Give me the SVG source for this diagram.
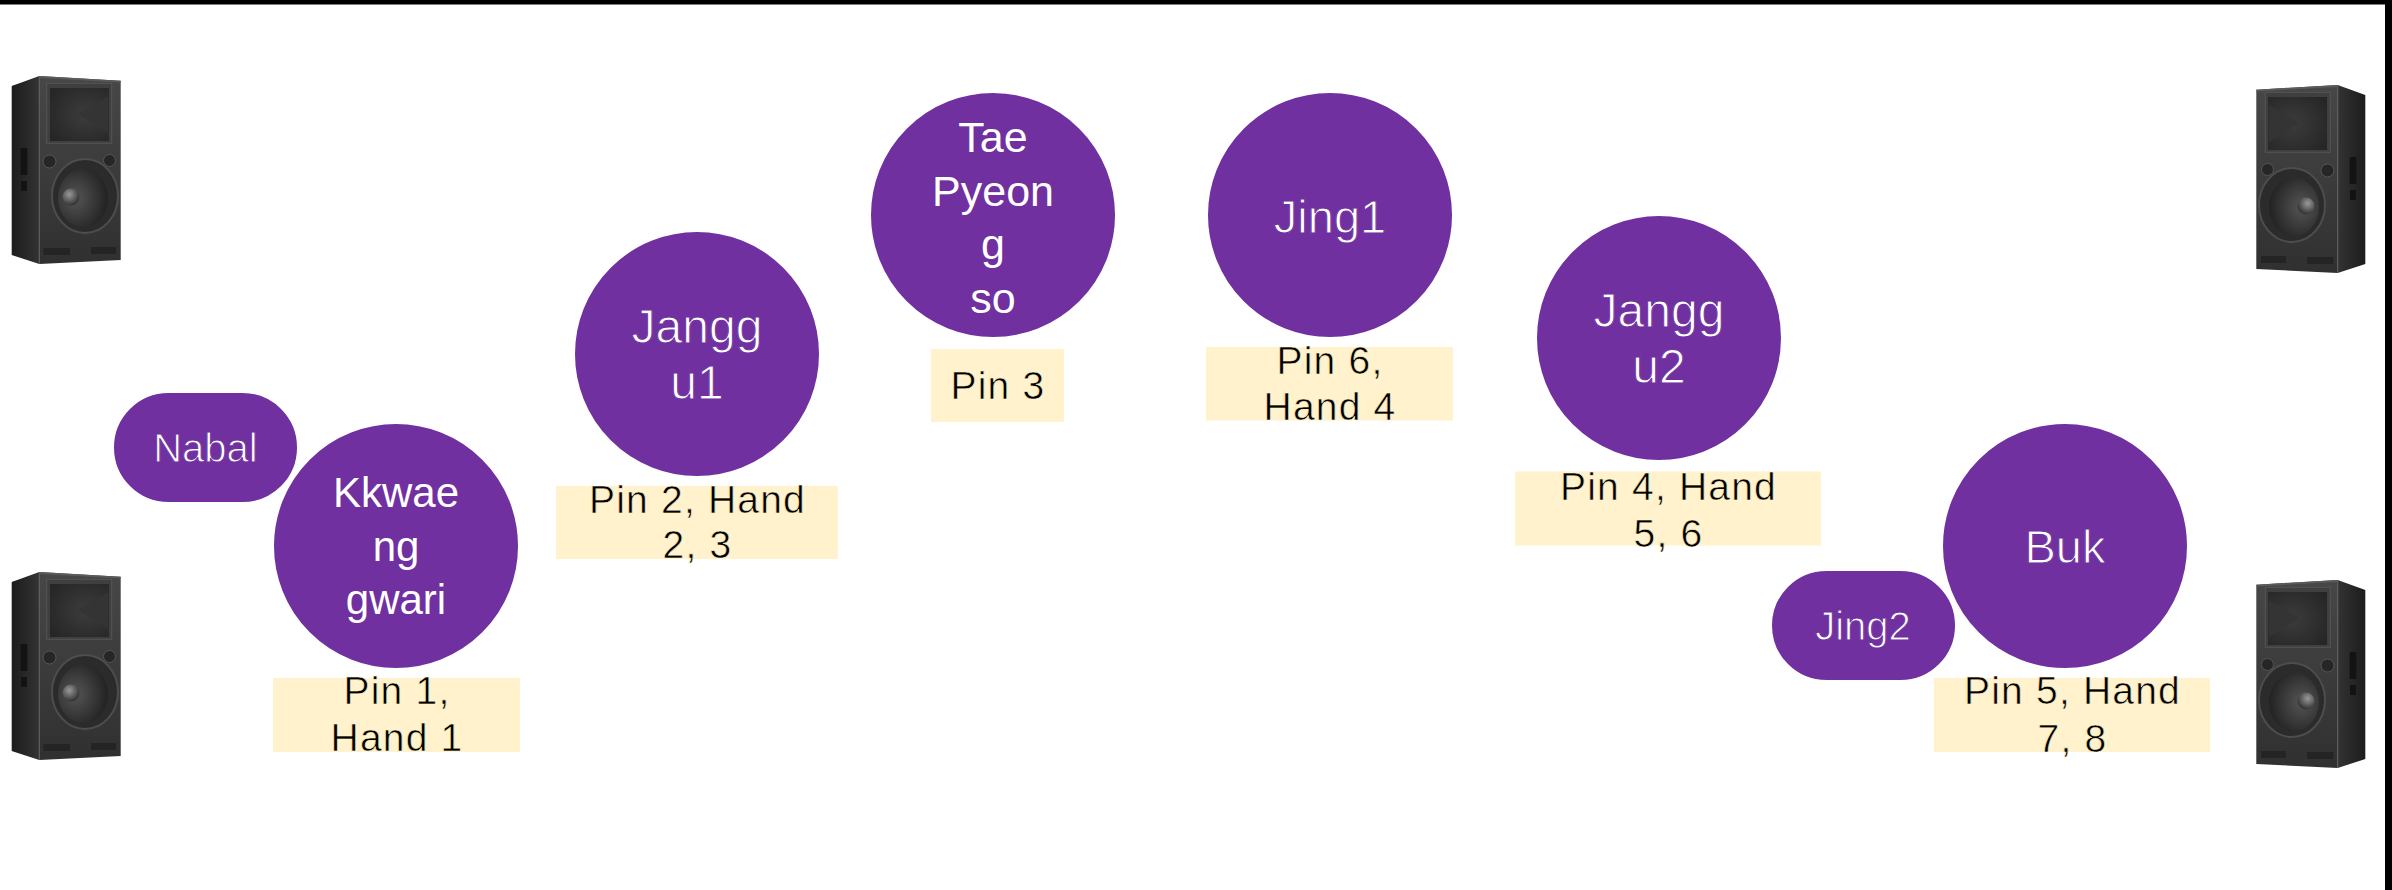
<svg xmlns="http://www.w3.org/2000/svg" width="2392" height="890" viewBox="0 0 2392 890">
  <style>
    .node { fill: #7030A0; stroke: #ffffff; stroke-width: 2; }
    .lbl { fill: #FFF2CC; }
    .tw { fill: #ffffff; font-family: "Liberation Sans", Arial, sans-serif; text-anchor: middle; }
    .thin { stroke: #7030A0; stroke-width: 1px; }
    .tb { fill: #000000; font-family: "Liberation Sans", Arial, sans-serif; text-anchor: middle; font-size: 39px; letter-spacing: 1.2px; stroke: #FFF2CC; stroke-width: 0.6px; }
    .light { font-size: 48px; }
  </style>
  <defs>
    <linearGradient id="frontGrad" x1="0" y1="0" x2="0" y2="1">
      <stop offset="0" stop-color="#474747"/>
      <stop offset="1" stop-color="#303030"/>
    </linearGradient>
    <linearGradient id="sideGrad" x1="0" y1="0" x2="1" y2="0">
      <stop offset="0" stop-color="#1c1c1c"/>
      <stop offset="1" stop-color="#333333"/>
    </linearGradient>
    <radialGradient id="hornGrad" cx="0.6" cy="0.5" r="0.7">
      <stop offset="0" stop-color="#3c3c3c"/>
      <stop offset="1" stop-color="#262626"/>
    </radialGradient>
    <radialGradient id="coneGrad" cx="0.35" cy="0.5" r="0.7">
      <stop offset="0" stop-color="#555555"/>
      <stop offset="1" stop-color="#1e1e1e"/>
    </radialGradient>
    <radialGradient id="capGrad" cx="0.4" cy="0.35" r="0.7">
      <stop offset="0" stop-color="#9a9a9a"/>
      <stop offset="1" stop-color="#2a2a2a"/>
    </radialGradient>
    <g id="speaker">
      <polygon points="11.7,86 39.3,76 39.3,264 11.7,255" fill="url(#sideGrad)"/>
      <polygon points="39.3,76 120.7,80.7 120.7,260 39.3,264" fill="url(#frontGrad)"/>
      <line x1="39.3" y1="76" x2="39.3" y2="264" stroke="#5c5c5c" stroke-width="1.2"/>
      <polygon points="39.3,76 120.7,80.7 120.7,82.5 39.3,78" fill="#5a5a5a"/>
      <rect x="46.7" y="83.3" width="65" height="60" fill="#3f3f3f" stroke="#555555" stroke-width="1"/>
      <rect x="50" y="88" width="59" height="53" fill="url(#hornGrad)"/>
      <path d="M 108,96 L 78,114 L 108,133 Z" fill="#343434"/>
      <circle cx="49.5" cy="161.5" r="6.5" fill="#262626" stroke="#555555" stroke-width="1"/>
      <circle cx="109.5" cy="160.5" r="6" fill="#262626" stroke="#555555" stroke-width="1"/>
      <ellipse cx="85" cy="196" rx="33" ry="37" fill="#2b2b2b" stroke="#4d4d4d" stroke-width="2"/>
      <ellipse cx="83" cy="198" rx="25" ry="29" fill="url(#coneGrad)"/>
      <circle cx="71" cy="197" r="8.5" fill="url(#capGrad)"/>
      <rect x="43.5" y="248" width="26.5" height="7" fill="#242424"/>
      <rect x="91" y="247" width="25" height="7" fill="#242424"/>
      <rect x="20.7" y="148" width="6.6" height="27" fill="#131313"/>
      <rect x="21" y="181" width="6" height="10" fill="#131313"/>
    </g>
  </defs>

  <rect x="0" y="0" width="2392" height="890" fill="#ffffff"/>
  <rect x="0" y="0" width="2392" height="4.5" fill="#000000"/>
  <rect x="2385" y="0" width="7" height="890" fill="#000000"/>

  <g id="speakers">
    <use href="#speaker"/>
    <use href="#speaker" transform="translate(0,496)"/>
    <use href="#speaker" transform="translate(2377,9) scale(-1,1)"/>
    <use href="#speaker" transform="translate(2377,504) scale(-1,1)"/>
  </g>

  <g id="connectors"/>

  <g id="nabal">
    <rect class="node" x="113" y="392" width="185" height="111" rx="55.5"/>
    <text class="tw thin" x="205.5" y="462" font-size="40">Nabal</text>
  </g>

  <g id="kkwaenggwari">
    <circle class="node" cx="396" cy="546" r="123"/>
    <text class="tw" font-size="42"><tspan x="396" y="507">Kkwae</tspan><tspan x="396" y="560.5">ng</tspan><tspan x="396" y="614">gwari</tspan></text>
  </g>
  <g id="label-kkwaenggwari">
    <rect class="lbl" x="273" y="678" width="247" height="74"/>
    <text class="tb"><tspan x="397" y="704">Pin 1,</tspan><tspan x="397" y="751">Hand 1</tspan></text>
  </g>

  <g id="janggu1">
    <circle class="node" cx="697" cy="354" r="123"/>
    <text class="tw thin light"><tspan x="697" y="343">Jangg</tspan><tspan x="697" y="399">u1</tspan></text>
  </g>
  <g id="label-janggu1">
    <rect class="lbl" x="556" y="486" width="282" height="73"/>
    <text class="tb"><tspan x="697.5" y="513">Pin 2, Hand</tspan><tspan x="697.5" y="558">2, 3</tspan></text>
  </g>

  <g id="taepyeongso">
    <circle class="node" cx="993" cy="215" r="123"/>
    <text class="tw" font-size="43"><tspan x="993" y="152">Tae</tspan><tspan x="993" y="205.7">Pyeon</tspan><tspan x="993" y="259.3">g</tspan><tspan x="993" y="313">so</tspan></text>
  </g>
  <g id="label-taepyeongso">
    <rect class="lbl" x="931" y="349" width="133" height="73"/>
    <text class="tb" x="998" y="399">Pin 3</text>
  </g>

  <g id="jing1">
    <circle class="node" cx="1330" cy="215" r="123"/>
    <text class="tw thin" x="1330" y="233" font-size="47">Jing1</text>
  </g>
  <g id="label-jing1">
    <rect class="lbl" x="1206" y="347" width="247" height="73.5"/>
    <text class="tb"><tspan x="1330" y="374">Pin 6,</tspan><tspan x="1330" y="420">Hand 4</tspan></text>
  </g>

  <g id="janggu2">
    <circle class="node" cx="1659" cy="338" r="123"/>
    <text class="tw thin light"><tspan x="1659" y="327">Jangg</tspan><tspan x="1659" y="383">u2</tspan></text>
  </g>
  <g id="label-janggu2">
    <rect class="lbl" x="1515" y="471.5" width="306" height="74"/>
    <text class="tb"><tspan x="1668.5" y="500">Pin 4, Hand</tspan><tspan x="1668.5" y="547">5, 6</tspan></text>
  </g>

  <g id="buk">
    <circle class="node" cx="2065" cy="546" r="123"/>
    <text class="tw thin" x="2065" y="562.5" font-size="47">Buk</text>
  </g>
  <g id="jing2">
    <rect class="node" x="1771" y="570" width="185" height="111" rx="55.5"/>
    <text class="tw thin" x="1863" y="640" font-size="40">Jing2</text>
  </g>
  <g id="label-buk">
    <rect class="lbl" x="1934" y="678" width="276" height="74"/>
    <text class="tb"><tspan x="2072.5" y="704">Pin 5, Hand</tspan><tspan x="2072.5" y="752">7, 8</tspan></text>
  </g>
</svg>
